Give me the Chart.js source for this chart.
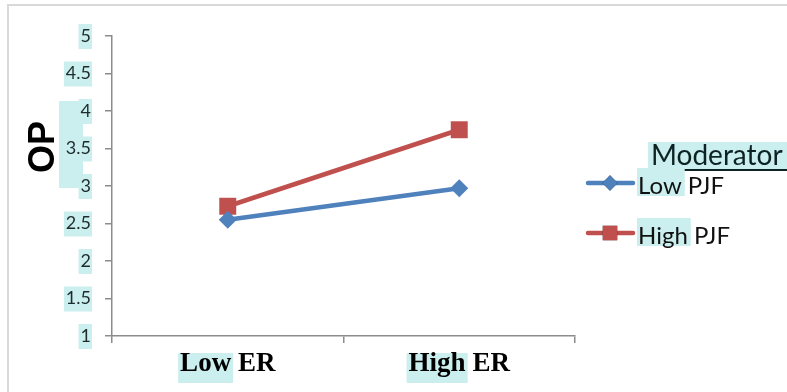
<!DOCTYPE html>
<html>
<head>
<meta charset="utf-8">
<script src="https://cdn.jsdelivr.net/npm/chart.js@4"></script>
<style>
  body { margin: 0; background: #fff; }
  #wrap { width: 787px; height: 392px; position: relative; }
</style>
</head>
<body>
<div id="wrap"><canvas id="chart"></canvas></div>
<script>
// data
const categories = ['Low ER', 'High ER'];
const seriesNames = ['Low PJF', 'High PJF'];
const lowPJF = [2.55, 2.97];
const highPJF = [2.73, 3.75];
const yMin = 1, yMax = 5, yStep = 0.5;
const yTitle = 'OP';
const legendTitle = 'Moderator';

const BLUE = '#4f81bd';
const RED = '#c0504d';
const AXIS = '#8c8c8c';
const HILITE = '#cbeeee';
const TICK_FONT = { family: 'Lato', size: 18 };
const X_FONT = { family: 'Liberation Serif', size: 27, weight: 'bold' };

// highlights behind text, outer frame, y title and legend
const decor = {
    id: 'decor',
    beforeDraw(chart) {
        const ctx = chart.ctx;
        ctx.save();
        // frame
        ctx.strokeStyle = '#d9d9d9';
        ctx.lineWidth = 2;
        ctx.beginPath();
        ctx.moveTo(8, 392);
        ctx.lineTo(8, 5);
        ctx.lineTo(787, 5);
        ctx.stroke();

        ctx.fillStyle = HILITE;
        // y tick labels
        const ys = chart.scales.y;
        ctx.font = TICK_FONT.size + 'px ' + TICK_FONT.family;
        ys.ticks.forEach(t => {
            const py = ys.getPixelForValue(t.value);
            const w = ctx.measureText(String(t.label)).width;
            ctx.fillRect(91 - w - 2, py - 12, w + 3, 25);
        });
        // box behind title
        ctx.fillRect(59, 101, 24, 87);

        // first word of x labels
        const xs = chart.scales.x;
        ctx.font = 'bold ' + X_FONT.size + 'px ' + X_FONT.family;
        categories.forEach((c, i) => {
            const px = xs.getPixelForValue(i);
            const w = ctx.measureText(c).width;
            const w1 = ctx.measureText(c.split(' ')[0]).width;
            ctx.fillRect(px - w / 2 - 2, 353, w1 + 4, 30);
        });
        ctx.restore();
    },
    afterDraw(chart) {
        const ctx = chart.ctx;
        ctx.save();
        // y title
        ctx.translate(44, 147);
        ctx.rotate(-Math.PI / 2);
        ctx.font = 'bold 36px "Liberation Sans"';
        ctx.fillStyle = '#000';
        ctx.textAlign = 'center';
        ctx.textBaseline = 'middle';
        ctx.fillText(yTitle, 0, 0);
        ctx.restore();

        ctx.save();
        // legend title
        ctx.font = '28px Lato';
        const tw = ctx.measureText(legendTitle).width;
        ctx.fillStyle = HILITE;
        ctx.fillRect(648, 142, tw + 8, 28);
        ctx.fillStyle = '#0d2222';
        ctx.textBaseline = 'alphabetic';
        ctx.fillText(legendTitle, 651, 165);
        ctx.fillRect(648, 169, tw + 8, 2);

        // legend items
        const rows = [183, 233];
        chart.data.datasets.forEach((ds, i) => {
            const y = rows[i];
            ctx.strokeStyle = ds.borderColor;
            ctx.lineWidth = 4.5;
            ctx.lineCap = 'round';
            ctx.beginPath();
            ctx.moveTo(588, y);
            ctx.lineTo(633, y);
            ctx.stroke();
            Chart.helpers.drawPoint(ctx, {
                pointStyle: ds.pointStyle,
                radius: ds.pointRadius * 0.85,
                borderWidth: 0
            }, 610, y);
            ctx.fillStyle = ds.backgroundColor;
            ctx.fill();

            ctx.font = '24px Lato';
            const word = ds.label.split(' ')[0];
            const ww = ctx.measureText(word).width;
            ctx.fillStyle = HILITE;
            ctx.fillRect(637, y - 15, ww + 4, 28);
            ctx.fillStyle = '#111';
            ctx.fillText(ds.label, 638, y + 11);
        });
        ctx.restore();
    }
};

new Chart(document.getElementById('chart'), {
    type: 'line',
    data: {
        labels: categories,
        datasets: [
            {
                label: seriesNames[0],
                data: lowPJF,
                borderColor: BLUE,
                backgroundColor: BLUE,
                borderWidth: 4.5,
                pointStyle: 'rectRot',
                pointRadius: 9,
                pointHoverRadius: 9,
                pointBorderWidth: 0,
                tension: 0
            },
            {
                label: seriesNames[1],
                data: highPJF,
                borderColor: RED,
                backgroundColor: RED,
                borderWidth: 4.5,
                pointStyle: 'rect',
                pointRadius: 12,
                pointHoverRadius: 12,
                pointBorderWidth: 0,
                tension: 0
            }
        ]
    },
    options: {
        responsive: true,
        maintainAspectRatio: false,
        animation: false,
        layout: { padding: { top: 36, right: 212, left: 0, bottom: 0 } },
        plugins: {
            legend: { display: false },
            tooltip: { enabled: false }
        },
        scales: {
            x: {
                offset: true,
                afterFit: s => { s.height = 56; },
                grid: {
                    offset: true,
                    drawOnChartArea: false,
                    color: AXIS,
                    tickLength: 7,
                    lineWidth: 1.5
                },
                border: { color: AXIS, width: 1.5 },
                ticks: {
                    color: '#000',
                    font: X_FONT,
                    padding: 5,
                    maxRotation: 0
                }
            },
            y: {
                min: yMin,
                max: yMax,
                afterFit: s => { s.width = 112; },
                grid: {
                    drawOnChartArea: false,
                    color: AXIS,
                    tickLength: 7,
                    lineWidth: 1.5
                },
                border: { color: AXIS, width: 1.5 },
                ticks: {
                    stepSize: yStep,
                    color: '#1e2b2b',
                    font: TICK_FONT,
                    padding: 14,
                    callback: v => String(v)
                }
            }
        }
    },
    plugins: [decor]
});
</script>
</body>
</html>
